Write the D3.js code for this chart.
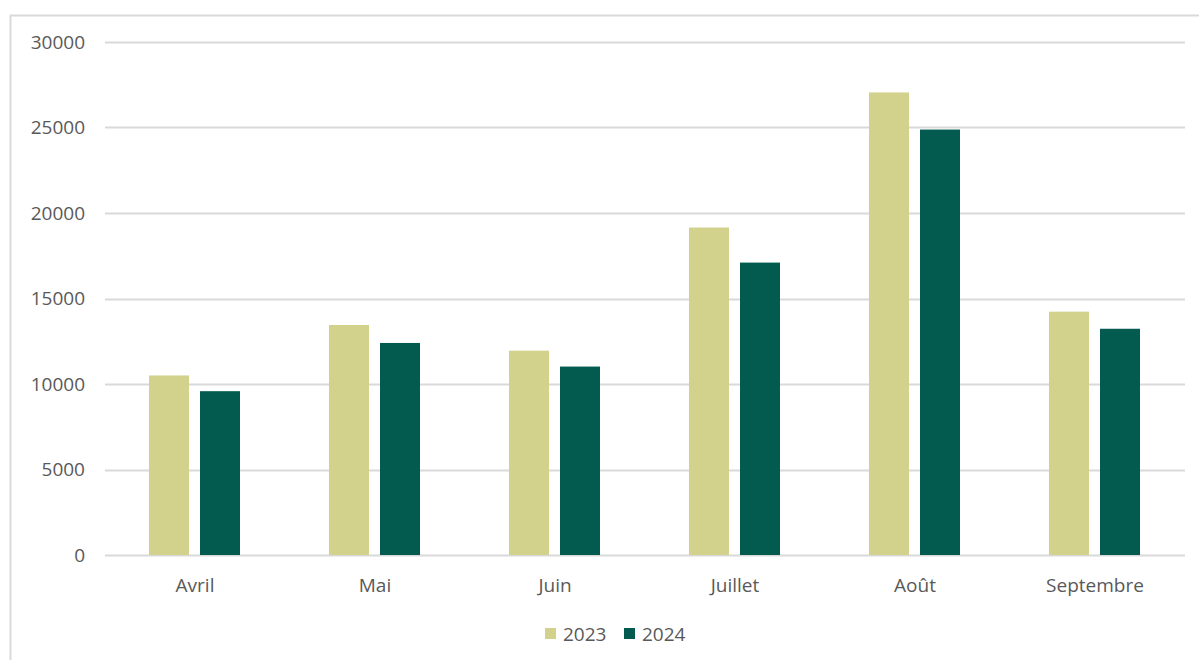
<!DOCTYPE html>
<html><head><meta charset="utf-8">
<script src="https://cdn.jsdelivr.net/npm/d3@7"></script>
<style>body{margin:0;background:#fff}svg{display:block}text{font-family:"Open Sans",sans-serif;fill:#595959}</style>
</head><body><svg id="c" width="1199" height="660"></svg>
<script>
const categories = ["Avril","Mai","Juin","Juillet","Août","Septembre"];
const seriesNames = ["2023","2024"];
const values2023 = [10500,13450,11950,19150,27050,14230];
const values2024 = [9580,12400,11020,17100,24880,13230];
const yTicks = [0,5000,10000,15000,20000,25000,30000];
const colors = ["#D2D28C","#035B4F"];

const svg = d3.select("#c");
svg.append("rect").attr("x",10.5).attr("y",15.5).attr("width",1200).attr("height",700)
  .attr("fill","none").attr("stroke","#D9D9D9").attr("stroke-width",2);

const x = d3.scaleBand().domain(categories).range([105,1185]);
const y = d3.scaleLinear().domain([0,30000]).range([555,42]);
const xs = d3.scaleBand().domain(seriesNames).range([44,135]).paddingInner(11/51);
const fs = 19;

const g = svg.append("g").attr("class","y");
g.selectAll("line").data(yTicks).join("line")
  .attr("x1",105).attr("x2",1185).attr("y1",d=>Math.round(y(d))+0.5).attr("y2",d=>Math.round(y(d))+0.5)
  .attr("stroke","#D9D9D9").attr("stroke-width",2);
g.selectAll("text").data(yTicks).join("text")
  .attr("x",85).attr("y",d=>y(d)).attr("dy","0.35em").attr("text-anchor","end")
  .attr("font-size",fs).text(d=>d);

const series = [values2023, values2024];
seriesNames.forEach((s,i)=>{
  svg.append("g").selectAll("rect").data(categories).join("rect")
    .attr("x",c=>x(c)+xs(s)).attr("width",xs.bandwidth())
    .attr("y",(c,j)=>y(series[i][j])).attr("height",(c,j)=>y(0)-y(series[i][j]))
    .attr("fill",colors[i]);
});

svg.append("g").selectAll("text").data(categories).join("text")
  .attr("x",c=>x(c)+x.bandwidth()/2).attr("y",585).attr("dy","0.35em").attr("text-anchor","middle")
  .attr("font-size",fs).text(c=>c);

const lg = svg.append("g");
const lx = [545,624];
seriesNames.forEach((s,i)=>{
  lg.append("rect").attr("x",lx[i]).attr("y",628).attr("width",11).attr("height",11).attr("fill",colors[i]);
  lg.append("text").attr("x",lx[i]+18).attr("y",634).attr("dy","0.35em").attr("font-size",fs).text(s);
});
</script></body></html>
